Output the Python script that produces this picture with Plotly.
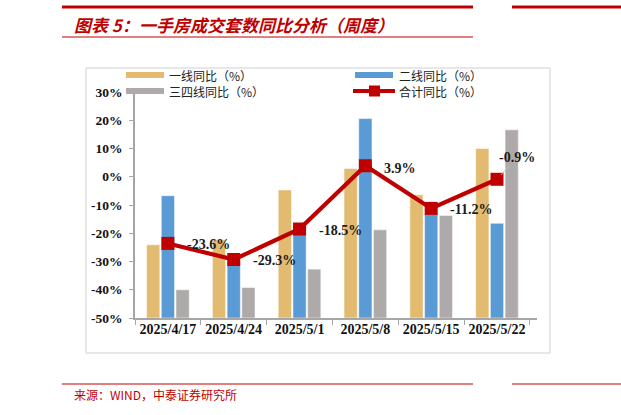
import plotly.graph_objects as go

categories = ["2025/4/17", "2025/4/24", "2025/5/1", "2025/5/8", "2025/5/15", "2025/5/22"]
tier1 = [-24.1, -22.3, -4.7, 2.9, -6.4, 10.0]
tier2 = [-6.7, -30.0, -18.0, 20.6, -13.2, -16.5]
tier34 = [-40.0, -39.2, -32.7, -18.8, -13.7, 16.6]
total = [-23.6, -29.3, -18.5, 3.9, -11.2, -0.9]
yticks = [30, 20, 10, 0, -10, -20, -30, -40, -50]
AXIS_MIN = -50

W, H = 621, 415
L, R, T, B = 135, 84, 92, 97
PW, PH = W - L - R, H - T - B

def px(x):
    return (x - L) / PW

def py(y):
    return (H - B - y) / PH

C_Y = "#E2BA70"
C_B = "#5B9BD5"
C_G = "#AEAAAA"
C_R = "#C00000"
SERIF = "Liberation Serif"
CJK = "Noto Sans CJK SC"

fig = go.Figure()
for vals, col, nm in [(tier1, C_Y, "一线同比（%）"), (tier2, C_B, "二线同比（%）"), (tier34, C_G, "三四线同比（%）")]:
    fig.add_bar(x=categories, y=[v - AXIS_MIN for v in vals], base=AXIS_MIN,
                marker=dict(color=col, line=dict(color="white", width=0.5)), name=nm)
fig.add_scatter(x=categories, y=total, mode="lines+markers", name="合计同比（%）",
                line=dict(color=C_R, width=4.2),
                marker=dict(symbol="square", size=13, color=C_R))

for i, (c, v) in enumerate(zip(categories, total)):
    txt = f"{v:.1f}%"
    if i == len(categories) - 1:
        fig.add_annotation(x=c, y=v, text=txt, showarrow=True, ax=20, ay=-22,
                           arrowhead=0, arrowwidth=1, arrowcolor="#BFBFBF", standoff=6,
                           font=dict(family=SERIF, size=14, color="#1a1a1a", weight="bold"))
    else:
        fig.add_annotation(x=c, y=v, text=txt, showarrow=False, xanchor="left",
                           xshift=17, yshift=-1 if i != 3 else -3,
                           font=dict(family=SERIF, size=14, color="#1a1a1a", weight="bold"))

shapes = []
shapes.append(dict(type="rect", xref="paper", yref="paper", x0=px(86), x1=px(550), y0=py(353), y1=py(68),
                   line=dict(color="#D0D0D0", width=1), layer="below"))
shapes.append(dict(type="line", xref="paper", yref="paper", x0=px(62), x1=px(473), y0=py(7), y1=py(7),
                   line=dict(color=C_R, width=3)))
shapes.append(dict(type="line", xref="paper", yref="paper", x0=px(512), x1=px(621), y0=py(7), y1=py(7),
                   line=dict(color=C_R, width=3)))
shapes.append(dict(type="line", xref="paper", yref="paper", x0=px(62), x1=px(473), y0=py(37), y1=py(37),
                   line=dict(color=C_R, width=1)))
shapes.append(dict(type="line", xref="paper", yref="paper", x0=px(62), x1=px(473), y0=py(384), y1=py(384),
                   line=dict(color=C_R, width=1.2)))
shapes.append(dict(type="line", xref="paper", yref="paper", x0=px(512), x1=px(621), y0=py(384), y1=py(384),
                   line=dict(color=C_R, width=1.2)))
for (x0, x1, yc, col) in [(126, 164, 75, C_Y), (355, 393, 75, C_B), (126, 164, 91, C_G)]:
    shapes.append(dict(type="rect", xref="paper", yref="paper", x0=px(x0), x1=px(x1),
                       y0=py(yc + 3), y1=py(yc - 3), fillcolor=col, line=dict(width=0)))
shapes.append(dict(type="line", xref="paper", yref="paper", x0=px(353), x1=px(395), y0=py(91), y1=py(91),
                   line=dict(color=C_R, width=4)))
shapes.append(dict(type="rect", xref="paper", yref="paper", x0=px(369), x1=px(380), y0=py(96.5), y1=py(85.5),
                   fillcolor=C_R, line=dict(width=0)))

annos = [
    (168, 75, "一线同比（%）"), (398, 75, "二线同比（%）"),
    (168, 91, "三四线同比（%）"), (398, 91, "合计同比（%）"),
]
for x, y, t in annos:
    fig.add_annotation(xref="paper", yref="paper", x=px(x), y=py(y), text=t, showarrow=False,
                       xanchor="left", yanchor="middle", height=14, borderpad=0,
                       font=dict(family=CJK, size=12, color="#222222"))

fig.add_annotation(xref="paper", yref="paper", x=px(72), y=py(24), text="<b><i>图表 5：一手房成交套数同比分析（周度）</i></b>",
                   showarrow=False, xanchor="left", yanchor="middle",
                   font=dict(family=CJK, size=17, color=C_R))
fig.add_annotation(xref="paper", yref="paper", x=px(72), y=py(394), text="来源：WIND，中泰证券研究所",
                   showarrow=False, xanchor="left", yanchor="middle",
                   font=dict(family=CJK, size=12, color=C_R))

fig.update_layout(
    width=W, height=H, margin=dict(l=L, r=R, t=T, b=B, pad=0),
    paper_bgcolor="white", plot_bgcolor="white",
    barmode="group", bargap=0.33, bargroupgap=0.1,
    showlegend=False, shapes=shapes,
    xaxis=dict(type="category", showline=True, linecolor="#A6A6A6", linewidth=1.5,
               ticks="outside", tickson="boundaries", ticklen=5, tickcolor="#A6A6A6",
               showgrid=False, zeroline=False, ticklabelstandoff=-3,
               tickfont=dict(family=SERIF, size=14, color="#111111", weight="bold")),
    yaxis=dict(range=[-50, 30], tickvals=yticks, ticktext=[f"{v}%" for v in yticks],
               showline=True, linecolor="#A6A6A6", linewidth=1.5,
               ticks="outside", ticklen=4, tickcolor="#A6A6A6",
               showgrid=False, zeroline=False, ticklabelstandoff=4,
               tickfont=dict(family=SERIF, size=13.5, color="#111111", weight="bold")),
)

fig.write_html("out.html", config={"displayModeBar": False},
               post_script="document.body.style.margin='0px';document.body.style.overflow='hidden';")
